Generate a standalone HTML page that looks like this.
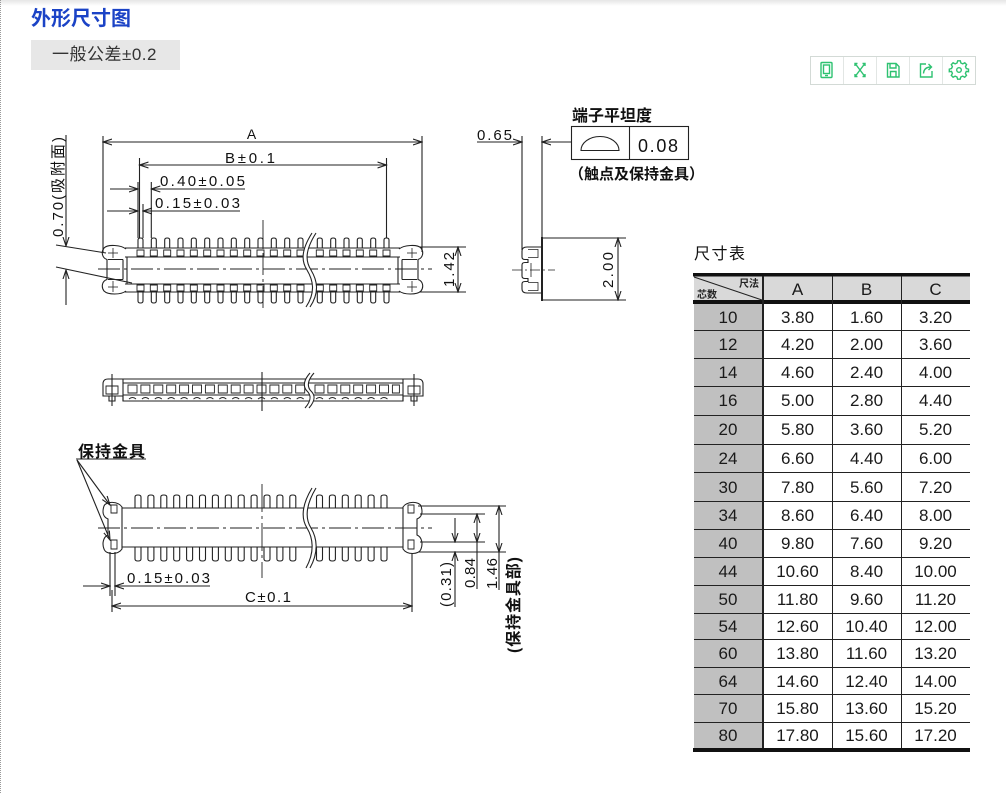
<!DOCTYPE html>
<html><head><meta charset="utf-8">
<style>
html,body{margin:0;padding:0;background:#fff;}
body{width:1006px;height:793px;overflow:hidden;position:relative;font-family:"Liberation Sans","Noto Sans CJK SC",sans-serif;}
.topsh{position:absolute;left:0;top:0;width:1006px;height:6px;background:linear-gradient(#e6e6e6,#fff);}
.ldot{position:absolute;left:0;top:0;width:0;height:793px;border-left:1px dotted #9a9a9a;}
.title{position:absolute;left:31px;top:5px;font-size:20px;font-weight:bold;color:#1b43c6;font-family:"Liberation Sans","Noto Sans CJK SC",sans-serif;line-height:28px;}
.tol{position:absolute;left:31px;top:40px;width:149px;height:30px;background:#e7e7e7;font-size:17px;letter-spacing:0.5px;color:#333;line-height:30px;text-indent:21px;font-family:"Liberation Sans","Noto Sans CJK SC",sans-serif;}
svg{position:absolute;left:0;top:0;}
</style></head><body>
<div class="topsh"></div>
<div class="ldot"></div>
<div class="title">外形尺寸图</div>
<div class="tol">一般公差±0.2</div>

<svg width="1006" height="793" viewBox="0 0 1006 793" xmlns="http://www.w3.org/2000/svg">
<defs>
<marker id="ar" markerUnits="userSpaceOnUse" markerWidth="10" markerHeight="8" refX="9" refY="4" orient="auto-start-reverse" viewBox="0 0 10 8">
<path d="M0,1 L9,4 L0,7" fill="none" stroke="#222" stroke-width="1.1"/>
</marker>
<path id="tp" d="M0,10 V2 Q0,0 2.5,0 Q5,0 5,2 V10"/>
<path id="bp" d="M0,0 V9 Q0,11 2.5,11 Q5,11 5,9 V0"/>
<path id="vt" d="M0,13 V2 Q0,0 3,0 Q6,0 6,2 V13"/>
<path id="vb" d="M0,0 V12 Q0,14 3,14 Q6,14 6,12 V0"/>
</defs>

<!-- toolbar -->
<g>
<rect x="810.5" y="56.5" width="165" height="28" fill="#fff" stroke="#d3dad6"/>
<line x1="843.5" y1="57" x2="843.5" y2="84" stroke="#e2e6e4"/>
<line x1="876.5" y1="57" x2="876.5" y2="84" stroke="#e2e6e4"/>
<line x1="909.5" y1="57" x2="909.5" y2="84" stroke="#e2e6e4"/>
<line x1="942.5" y1="57" x2="942.5" y2="84" stroke="#e2e6e4"/>
<g fill="none" stroke="#2ec271" stroke-width="1.4">
<rect x="821" y="62.5" width="11" height="15" rx="1"/>
<rect x="823.5" y="65" width="6" height="8.5"/>
<line x1="825" y1="75.5" x2="828" y2="75.5"/>
<path d="M855,66 V63.5 H857.5 M862.5,63.5 H865 V66 M865,74 V76.5 H862.5 M857.5,76.5 H855 V74"/>
<line x1="855.5" y1="64" x2="864.5" y2="76"/>
<line x1="864.5" y1="64" x2="855.5" y2="76"/>
<path d="M887.5,63.5 H896 L899,66.5 V77 H887.5 Z"/>
<path d="M890,63.5 V68 H896 V63.5"/>
<path d="M890.5,77 V71.5 H896 V77"/>
<path d="M926,64 H920.5 V77 H932 V71"/>
<path d="M923.5,73.5 Q924,67 931,67"/>
<path d="M928.5,64 L931.5,67 L928.5,70"/>
<circle cx="959" cy="70" r="2.3"/>
<path d="M957.7,62.8 H960.3 L960.9,65 L962.8,65.9 L964.8,64.8 L966.6,66.6 L965.5,68.6 L966.3,70.5 L968.5,71.1 V73.7 L966.3,73.4 L965.4,75.4 L966.5,77.4 L964.7,79.2 L962.7,78.1 L960.8,79 L960.2,81.2 H957.6 L957,79 L955.1,78.1 L953.1,79.2 L951.3,77.4 L952.4,75.4 L951.5,73.4 L949.3,73.7 V71.1 L951.5,70.5 L952.4,68.6 L951.3,66.6 L953.1,64.8 L955.1,65.9 L957,65 Z" transform="translate(0,-2)"/>
</g>
</g>

<!-- ================= DRAWINGS ================= -->
<g fill="none" stroke="#222" stroke-width="1.1">

<!-- ===== TOP VIEW ===== -->
<line x1="103" y1="136" x2="103" y2="252"/>
<line x1="422" y1="136" x2="422" y2="252"/>
<line x1="103" y1="142" x2="422" y2="142" marker-start="url(#ar)" marker-end="url(#ar)"/>
<line x1="139.5" y1="158" x2="139.5" y2="238"/>
<line x1="386.5" y1="158" x2="386.5" y2="238"/>
<line x1="139.5" y1="165" x2="386.5" y2="165" marker-start="url(#ar)" marker-end="url(#ar)"/>
<line x1="138" y1="182" x2="138" y2="238"/>
<line x1="151.3" y1="182" x2="151.3" y2="238"/>
<line x1="110" y1="189" x2="138" y2="189" marker-end="url(#ar)"/>
<line x1="245" y1="189" x2="151.3" y2="189" marker-end="url(#ar)"/>
<line x1="143" y1="204" x2="143" y2="238"/>
<line x1="107" y1="211" x2="138" y2="211" marker-end="url(#ar)"/>
<line x1="240" y1="211" x2="143" y2="211" marker-end="url(#ar)"/>
<line x1="66" y1="135" x2="66" y2="246" marker-end="url(#ar)"/>
<line x1="66" y1="305" x2="66" y2="270" marker-end="url(#ar)"/>
<line x1="56" y1="245" x2="106" y2="253"/>
<line x1="56" y1="267" x2="132" y2="283"/>
<line x1="420" y1="247" x2="466" y2="247"/>
<line x1="420" y1="292" x2="466" y2="292"/>
<line x1="458" y1="247" x2="458" y2="292" marker-start="url(#ar)" marker-end="url(#ar)"/>

<line x1="125" y1="248" x2="400" y2="248"/>
<line x1="125" y1="257" x2="400" y2="257"/>
<line x1="125" y1="284" x2="400" y2="284"/>
<line x1="125" y1="292" x2="400" y2="292"/>
<line x1="127" y1="257" x2="127" y2="284"/>
<line x1="398" y1="257" x2="398" y2="284"/>
<g id="lobeT">
<path d="M126,249 C121,245 108,244 104,248 C101,252 102,258 107,259.5 L107,279.5 C102,281 101,287 104,291 C108,295 121,295 126,291"/>
<line x1="123" y1="259.5" x2="123" y2="279.5"/>
<path d="M108,259.5 H123 M108,279.5 H123"/>
<line x1="113" y1="248" x2="113" y2="258" stroke-width=".8"/>
<line x1="108" y1="253" x2="118" y2="253" stroke-width=".8"/>
<line x1="113" y1="281" x2="113" y2="292" stroke-width=".8"/>
<line x1="108" y1="287" x2="118" y2="287" stroke-width=".8"/>
</g>
<use href="#lobeT" transform="translate(525,0) scale(-1,1)"/>
<g>
<use href="#tp" x="138" y="238"/><use href="#tp" x="151.3" y="238"/><use href="#tp" x="164.7" y="238"/><use href="#tp" x="178" y="238"/><use href="#tp" x="191.3" y="238"/><use href="#tp" x="204.7" y="238"/><use href="#tp" x="218" y="238"/><use href="#tp" x="231.3" y="238"/><use href="#tp" x="244.7" y="238"/><use href="#tp" x="258" y="238"/><use href="#tp" x="271.3" y="238"/><use href="#tp" x="284.7" y="238"/><use href="#tp" x="298" y="238"/>
<use href="#tp" x="317.3" y="238"/><use href="#tp" x="330.7" y="238"/><use href="#tp" x="344" y="238"/><use href="#tp" x="357.3" y="238"/><use href="#tp" x="370.7" y="238"/><use href="#tp" x="384" y="238"/>
</g>
<g>
<use href="#bp" x="138" y="292"/><use href="#bp" x="151.3" y="292"/><use href="#bp" x="164.7" y="292"/><use href="#bp" x="178" y="292"/><use href="#bp" x="191.3" y="292"/><use href="#bp" x="204.7" y="292"/><use href="#bp" x="218" y="292"/><use href="#bp" x="231.3" y="292"/><use href="#bp" x="244.7" y="292"/><use href="#bp" x="258" y="292"/><use href="#bp" x="271.3" y="292"/><use href="#bp" x="284.7" y="292"/><use href="#bp" x="298" y="292"/>
<use href="#bp" x="317.3" y="292"/><use href="#bp" x="330.7" y="292"/><use href="#bp" x="344" y="292"/><use href="#bp" x="357.3" y="292"/><use href="#bp" x="370.7" y="292"/><use href="#bp" x="384" y="292"/>
</g>
<g stroke-width=".9">
<path d="M137,250h7v6h-7z M150.3,250h7v6h-7z M163.7,250h7v6h-7z M177,250h7v6h-7z M190.3,250h7v6h-7z M203.7,250h7v6h-7z M217,250h7v6h-7z M230.3,250h7v6h-7z M243.7,250h7v6h-7z M257,250h7v6h-7z M270.3,250h7v6h-7z M283.7,250h7v6h-7z M297,250h7v6h-7z M316.3,250h7v6h-7z M329.7,250h7v6h-7z M343,250h7v6h-7z M356.3,250h7v6h-7z M369.7,250h7v6h-7z M383,250h7v6h-7z"/>
<path d="M137,285h7v6h-7z M150.3,285h7v6h-7z M163.7,285h7v6h-7z M177,285h7v6h-7z M190.3,285h7v6h-7z M203.7,285h7v6h-7z M217,285h7v6h-7z M230.3,285h7v6h-7z M243.7,285h7v6h-7z M257,285h7v6h-7z M270.3,285h7v6h-7z M283.7,285h7v6h-7z M297,285h7v6h-7z M316.3,285h7v6h-7z M329.7,285h7v6h-7z M343,285h7v6h-7z M356.3,285h7v6h-7z M369.7,285h7v6h-7z M383,285h7v6h-7z"/>
</g>
<line x1="98" y1="269" x2="432" y2="269" stroke-dasharray="22,4,3,4" stroke-width=".9"/>
<line x1="263" y1="220" x2="263" y2="312" stroke-dasharray="22,4,3,4" stroke-width=".9"/>
<path d="M312,233 C300,252 302,262 307,270 C313,280 316,292 306,307 L310,307 C320,292 317,280 311,270 C306,262 304,252 316,233 Z" fill="#fff" stroke="none"/>
<path d="M312,233 C300,252 302,262 307,270 C313,280 316,292 306,307"/>
<path d="M316,233 C304,252 306,262 311,270 C317,280 320,292 310,307"/>

<!-- ===== SIDE VIEW ===== -->
<line x1="522" y1="136" x2="522" y2="250"/>
<line x1="542" y1="136" x2="542" y2="238"/>
<line x1="477" y1="142" x2="522" y2="142" marker-end="url(#ar)"/>
<line x1="571" y1="142" x2="542" y2="142" marker-end="url(#ar)"/>
<line x1="542" y1="237" x2="542" y2="301" stroke-width="2"/>
<line x1="542" y1="238" x2="626" y2="238"/>
<line x1="542" y1="300" x2="626" y2="300"/>
<line x1="618" y1="238" x2="618" y2="300" marker-start="url(#ar)" marker-end="url(#ar)"/>
<path d="M542,247 H527 Q522,247 522,251 V257 Q522,259.5 525,259.5 H528 V262.5 H525 Q522,262.5 522,265 V276 Q522,278.5 525,278.5 H528 V281.5 H525 Q522,281.5 522,284 V289 Q522,293 527,293 H542"/>
<path d="M528,249.5 H538 V257.5 H528 M528,282.5 H538 V290.5 H528" stroke-width=".8"/>
<line x1="512" y1="270" x2="555" y2="270" stroke-dasharray="10,3,2,3" stroke-width=".8"/>
<line x1="531" y1="263" x2="531" y2="277" stroke-width=".8"/>
<rect x="571.5" y="126.5" width="117" height="33"/>
<line x1="629.5" y1="126.5" x2="629.5" y2="159.5"/>
<path d="M581,150.5 A19,14 0 0 1 619,150.5 Z"/>

<!-- ===== FRONT VIEW ===== -->
<path d="M103,396 V384 Q103,379 108,379 H418 Q423,379 423,384 V396 H403 V401 H123 V396 Z"/>
<line x1="123" y1="379" x2="123" y2="401"/>
<line x1="403" y1="379" x2="403" y2="401"/>
<line x1="123" y1="383" x2="403" y2="383"/>
<line x1="123" y1="395" x2="403" y2="395"/>
<g stroke-width=".9">
<path d="M128,385h9v8h-9z M140.9,385h9v8h-9z M153.8,385h9v8h-9z M166.7,385h9v8h-9z M179.6,385h9v8h-9z M192.5,385h9v8h-9z M205.4,385h9v8h-9z M218.3,385h9v8h-9z M231.2,385h9v8h-9z M244.1,385h9v8h-9z M257,385h9v8h-9z M269.9,385h9v8h-9z M282.8,385h9v8h-9z M295.7,385h9v8h-9z M315,385h9v8h-9z M327.9,385h9v8h-9z M340.8,385h9v8h-9z M353.7,385h9v8h-9z M366.6,385h9v8h-9z M379.5,385h9v8h-9z M392.4,385h7v8h-7z"/>
<path d="M106,386h12v8h-12z M408,386h12v8h-12z"/>
<path d="M129,399 q3.5,-3 7,0 M141.9,399 q3.5,-3 7,0 M154.8,399 q3.5,-3 7,0 M167.7,399 q3.5,-3 7,0 M180.6,399 q3.5,-3 7,0 M193.5,399 q3.5,-3 7,0 M206.4,399 q3.5,-3 7,0 M219.3,399 q3.5,-3 7,0 M232.2,399 q3.5,-3 7,0 M245.1,399 q3.5,-3 7,0 M258,399 q3.5,-3 7,0 M270.9,399 q3.5,-3 7,0 M283.8,399 q3.5,-3 7,0 M296.7,399 q3.5,-3 7,0 M316,399 q3.5,-3 7,0 M328.9,399 q3.5,-3 7,0 M341.8,399 q3.5,-3 7,0 M354.7,399 q3.5,-3 7,0 M367.6,399 q3.5,-3 7,0 M380.5,399 q3.5,-3 7,0"/>
</g>
<line x1="112" y1="374" x2="112" y2="406"/>
<line x1="414" y1="374" x2="414" y2="406"/>
<path d="M109,396 h6 v5 h-6z M411,396 h6 v5 h-6z"/>
<line x1="262" y1="372" x2="262" y2="411"/>
<path d="M310,373 C302,382 304,388 307,391 C311,395 312,400 305,408 L309,408 C316,400 315,395 311,391 C308,388 306,382 314,373 Z" fill="#fff" stroke="none"/>
<path d="M310,373 C302,382 304,388 307,391 C311,395 312,400 305,408"/>
<path d="M314,373 C306,382 308,388 311,391 C315,395 316,400 309,408"/>

<!-- ===== BOTTOM VIEW ===== -->
<line x1="122" y1="508" x2="403" y2="508"/>
<line x1="122" y1="547" x2="403" y2="547"/>
<g id="lobeB">
<path d="M122,507 C118,501 106,501 104,506 C102,512 103,517 108,519 L108,535 C103,537 102,544 104,549 C106,555 118,555 122,549 Z"/>
<path d="M111,505h6v8h-6z M111,540h6v9h-6z" stroke-width=".9"/>
</g>
<use href="#lobeB" transform="translate(525,0) scale(-1,1)"/>
<g>
<use href="#vt" x="135" y="495"/><use href="#vt" x="147.9" y="495"/><use href="#vt" x="160.8" y="495"/><use href="#vt" x="173.7" y="495"/><use href="#vt" x="186.6" y="495"/><use href="#vt" x="199.5" y="495"/><use href="#vt" x="212.4" y="495"/><use href="#vt" x="225.3" y="495"/><use href="#vt" x="238.2" y="495"/><use href="#vt" x="251.1" y="495"/><use href="#vt" x="264" y="495"/><use href="#vt" x="276.9" y="495"/><use href="#vt" x="289.8" y="495"/>
<use href="#vt" x="316.5" y="495"/><use href="#vt" x="329.4" y="495"/><use href="#vt" x="342.3" y="495"/><use href="#vt" x="355.2" y="495"/><use href="#vt" x="368.1" y="495"/><use href="#vt" x="381" y="495"/>
</g>
<g>
<use href="#vb" x="135" y="547"/><use href="#vb" x="147.9" y="547"/><use href="#vb" x="160.8" y="547"/><use href="#vb" x="173.7" y="547"/><use href="#vb" x="186.6" y="547"/><use href="#vb" x="199.5" y="547"/><use href="#vb" x="212.4" y="547"/><use href="#vb" x="225.3" y="547"/><use href="#vb" x="238.2" y="547"/><use href="#vb" x="251.1" y="547"/><use href="#vb" x="264" y="547"/><use href="#vb" x="276.9" y="547"/><use href="#vb" x="289.8" y="547"/>
<use href="#vb" x="316.5" y="547"/><use href="#vb" x="329.4" y="547"/><use href="#vb" x="342.3" y="547"/><use href="#vb" x="355.2" y="547"/><use href="#vb" x="368.1" y="547"/><use href="#vb" x="381" y="547"/>
</g>
<line x1="98" y1="528" x2="432" y2="528" stroke-dasharray="22,4,3,4" stroke-width=".9"/>
<line x1="262" y1="484" x2="262" y2="578" stroke-dasharray="28,4,3,4" stroke-width=".9"/>
<path d="M312,488 C300,508 302,520 307,528 C313,538 315,552 306,568 L310,568 C319,552 317,538 311,528 C306,520 304,508 316,488 Z" fill="#fff" stroke="none"/>
<path d="M312,488 C300,508 302,520 307,528 C313,538 315,552 306,568"/>
<path d="M316,488 C304,508 306,520 311,528 C317,538 319,552 310,568"/>
<line x1="76" y1="459" x2="146" y2="459"/>
<line x1="77" y1="460" x2="110" y2="505" marker-end="url(#ar)"/>
<line x1="77" y1="460" x2="110" y2="540" marker-end="url(#ar)"/>
<line x1="110" y1="552" x2="110" y2="596"/>
<line x1="115" y1="552" x2="115" y2="596"/>
<line x1="83" y1="586" x2="110" y2="586" marker-end="url(#ar)"/>
<line x1="210" y1="586" x2="115" y2="586" marker-end="url(#ar)"/>
<line x1="112" y1="590" x2="112" y2="612"/>
<line x1="412" y1="553" x2="412" y2="612"/>
<line x1="112" y1="606" x2="412" y2="606" marker-start="url(#ar)" marker-end="url(#ar)"/>
<line x1="418" y1="506" x2="506" y2="506"/>
<line x1="420" y1="514" x2="485" y2="514"/>
<line x1="420" y1="542" x2="485" y2="542"/>
<line x1="418" y1="552" x2="506" y2="552"/>
<line x1="455" y1="518" x2="455" y2="542" marker-end="url(#ar)"/>
<line x1="455" y1="607" x2="455" y2="552" marker-end="url(#ar)"/>
<line x1="477" y1="514" x2="477" y2="542" marker-start="url(#ar)" marker-end="url(#ar)"/>
<line x1="477" y1="542" x2="477" y2="589"/>
<line x1="499" y1="506" x2="499" y2="552" marker-start="url(#ar)" marker-end="url(#ar)"/>
<line x1="499" y1="552" x2="499" y2="590"/>
</g>

<!-- drawing texts -->
<g font-family="'Liberation Sans','Noto Sans CJK SC',sans-serif" fill="#111" font-size="15">
<text x="251.5" y="139" text-anchor="middle" font-size="14">A</text>
<text x="225" y="163" textLength="50" lengthAdjust="spacing">B±0.1</text>
<text x="160" y="186" textLength="85" lengthAdjust="spacing">0.40±0.05</text>
<text x="155" y="208" textLength="85" lengthAdjust="spacing">0.15±0.03</text>
<text transform="translate(63,237) rotate(-90)" textLength="100" lengthAdjust="spacing">0.70(吸附面)</text>
<text transform="translate(454,287) rotate(-90)" textLength="35" lengthAdjust="spacing">1.42</text>
<text x="477" y="140" textLength="35" lengthAdjust="spacing">0.65</text>
<text transform="translate(613,288) rotate(-90)" textLength="36" lengthAdjust="spacing">2.00</text>
<text x="638" y="152" font-size="18" textLength="40" lengthAdjust="spacing">0.08</text>
<text x="572" y="121" font-size="16" font-weight="bold" textLength="80" lengthAdjust="spacing">端子平坦度</text>
<text x="569" y="179" font-size="15" font-weight="bold" textLength="135" lengthAdjust="spacing">（触点及保持金具）</text>
<text x="78" y="457" font-size="16" font-weight="bold" textLength="67" lengthAdjust="spacing">保持金具</text>
<text x="127" y="583" textLength="83" lengthAdjust="spacing">0.15±0.03</text>
<text x="245" y="602" textLength="46" lengthAdjust="spacing">C±0.1</text>
<text transform="translate(451,607) rotate(-90)" textLength="45" lengthAdjust="spacing">(0.31)</text>
<text transform="translate(475,588) rotate(-90)" textLength="30" lengthAdjust="spacing">0.84</text>
<text transform="translate(497,589) rotate(-90)" textLength="31" lengthAdjust="spacing">1.46</text>
<text transform="translate(519,653) rotate(-90)" font-size="16" font-weight="bold" textLength="96" lengthAdjust="spacing">(保持金具部)</text>
<text x="694" y="259" font-size="16" fill="#111" textLength="51" lengthAdjust="spacing">尺寸表</text>
</g>

<!-- ===== TABLE ===== -->
<g>
<rect x="694" y="276" width="276" height="24" fill="#d9d9d9"/>
<rect x="694" y="304" width="69" height="444" fill="#c0c0c0"/>
<rect x="693" y="273" width="277" height="3.5" fill="#111"/>
<rect x="693" y="300" width="277" height="4" fill="#111"/>
<rect x="693" y="748" width="277" height="4" fill="#111"/>
<g stroke="#222" stroke-width="1">
<line x1="694" y1="330.5" x2="970" y2="330.5"/>
<line x1="694" y1="358.5" x2="970" y2="358.5"/>
<line x1="694" y1="386.5" x2="970" y2="386.5"/>
<line x1="694" y1="415.5" x2="970" y2="415.5"/>
<line x1="694" y1="444.5" x2="970" y2="444.5"/>
<line x1="694" y1="472.5" x2="970" y2="472.5"/>
<line x1="694" y1="501.5" x2="970" y2="501.5"/>
<line x1="694" y1="529.5" x2="970" y2="529.5"/>
<line x1="694" y1="557.5" x2="970" y2="557.5"/>
<line x1="694" y1="585.5" x2="970" y2="585.5"/>
<line x1="694" y1="613.5" x2="970" y2="613.5"/>
<line x1="694" y1="639.5" x2="970" y2="639.5"/>
<line x1="694" y1="667.5" x2="970" y2="667.5"/>
<line x1="694" y1="694.5" x2="970" y2="694.5"/>
<line x1="694" y1="722.5" x2="970" y2="722.5"/>
<line x1="763" y1="276" x2="763" y2="748" stroke-width="2"/>
<line x1="832.5" y1="276" x2="832.5" y2="748"/>
<line x1="901.5" y1="276" x2="901.5" y2="748"/>
<line x1="694" y1="277" x2="762" y2="300"/>
</g>
<g font-family="'Liberation Sans','Noto Sans CJK SC',sans-serif" font-size="10" font-weight="bold" fill="#222">
<text x="739" y="287">尺法</text>
<text x="697" y="298">芯数</text>
</g>
<g font-family="'Liberation Sans',sans-serif" font-size="17" fill="#1a1a1a" text-anchor="middle">
<text x="797.5" y="295">A</text><text x="866.5" y="295">B</text><text x="935.5" y="295">C</text>
<text x="728" y="323">10</text><text x="797.5" y="323">3.80</text><text x="866.5" y="323">1.60</text><text x="935.5" y="323">3.20</text>
<text x="728" y="350">12</text><text x="797.5" y="350">4.20</text><text x="866.5" y="350">2.00</text><text x="935.5" y="350">3.60</text>
<text x="728" y="378">14</text><text x="797.5" y="378">4.60</text><text x="866.5" y="378">2.40</text><text x="935.5" y="378">4.00</text>
<text x="728" y="406">16</text><text x="797.5" y="406">5.00</text><text x="866.5" y="406">2.80</text><text x="935.5" y="406">4.40</text>
<text x="728" y="435">20</text><text x="797.5" y="435">5.80</text><text x="866.5" y="435">3.60</text><text x="935.5" y="435">5.20</text>
<text x="728" y="464">24</text><text x="797.5" y="464">6.60</text><text x="866.5" y="464">4.40</text><text x="935.5" y="464">6.00</text>
<text x="728" y="493">30</text><text x="797.5" y="493">7.80</text><text x="866.5" y="493">5.60</text><text x="935.5" y="493">7.20</text>
<text x="728" y="521">34</text><text x="797.5" y="521">8.60</text><text x="866.5" y="521">6.40</text><text x="935.5" y="521">8.00</text>
<text x="728" y="549">40</text><text x="797.5" y="549">9.80</text><text x="866.5" y="549">7.60</text><text x="935.5" y="549">9.20</text>
<text x="728" y="577">44</text><text x="797.5" y="577">10.60</text><text x="866.5" y="577">8.40</text><text x="935.5" y="577">10.00</text>
<text x="728" y="605">50</text><text x="797.5" y="605">11.80</text><text x="866.5" y="605">9.60</text><text x="935.5" y="605">11.20</text>
<text x="728" y="632">54</text><text x="797.5" y="632">12.60</text><text x="866.5" y="632">10.40</text><text x="935.5" y="632">12.00</text>
<text x="728" y="659">60</text><text x="797.5" y="659">13.80</text><text x="866.5" y="659">11.60</text><text x="935.5" y="659">13.20</text>
<text x="728" y="687">64</text><text x="797.5" y="687">14.60</text><text x="866.5" y="687">12.40</text><text x="935.5" y="687">14.00</text>
<text x="728" y="714">70</text><text x="797.5" y="714">15.80</text><text x="866.5" y="714">13.60</text><text x="935.5" y="714">15.20</text>
<text x="728" y="741">80</text><text x="797.5" y="741">17.80</text><text x="866.5" y="741">15.60</text><text x="935.5" y="741">17.20</text>
</g>
</g>
</svg>
</body></html>
